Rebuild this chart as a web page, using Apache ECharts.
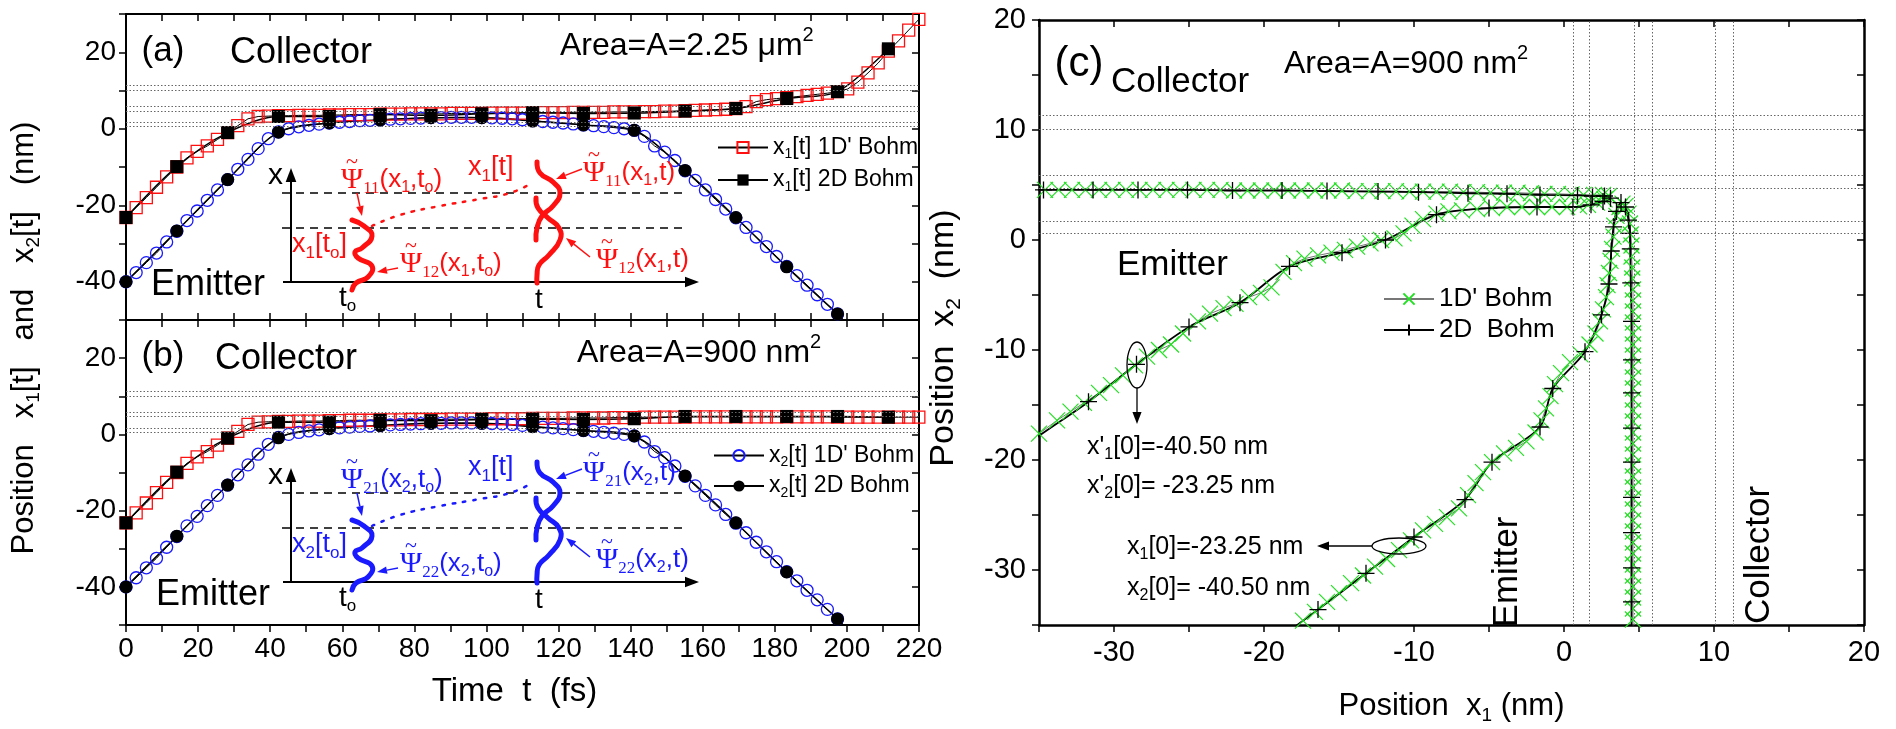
<!DOCTYPE html>
<html>
<head>
<meta charset="utf-8">
<title>Bohmian trajectories</title>
<script src="https://cdn.jsdelivr.net/npm/echarts/dist/echarts.min.js"></script>
<style>
  html, body { margin: 0; padding: 0; background: #fff; }
  #chart { width: 1896px; height: 729px; }
</style>
</head>
<body>
<div id="chart"></div>
<script>
// time grids (fs): 1D' samples and 2D samples
const t1D = [0, 2.82, 5.64, 8.46, 11.28, 14.1, 16.92, 19.74, 22.56, 25.38,
  28.2, 31.02, 33.84, 36.66, 39.48, 42.3, 45.12, 47.94, 50.76, 53.58,
  56.4, 59.22, 62.04, 64.86, 67.68, 70.5, 73.32, 76.14, 78.96, 81.78,
  84.6, 87.42, 90.24, 93.06, 95.88, 98.7, 101.52, 104.34, 107.16, 109.98,
  112.8, 115.62, 118.44, 121.26, 124.08, 126.9, 129.72, 132.54, 135.36, 138.18,
  141, 143.82, 146.64, 149.46, 152.28, 155.1, 157.92, 160.74, 163.56, 166.38,
  169.2, 172.02, 174.84, 177.66, 180.48, 183.3, 186.12, 188.94, 191.76, 194.58,
  197.4, 200.22, 203.04, 205.86, 208.68, 211.5, 214.32, 217.14, 219.96];
const t2D = [0, 14.1, 28.2, 42.3, 56.4, 70.5, 84.6, 98.7, 112.8, 126.9, 141, 155.1, 169.2, 183.3, 197.4, 211.5];

// panel (a), Area = 2.25 um^2
const a_x1_1d = [-23.2, -20.6, -18.0, -15.3, -12.6, -10.0, -7.6, -5.9, -4.5, -2.8,
  -1.0, 0.8, 2.6, 3.2, 3.3, 3.4, 3.4, 3.5, 3.5, 3.5,
  3.6, 3.6, 3.7, 3.7, 3.7, 3.8, 3.8, 3.8, 3.9, 3.9,
  3.9, 3.9, 4.0, 4.0, 4.0, 4.0, 4.1, 4.1, 4.1, 4.1,
  4.2, 4.2, 4.2, 4.2, 4.3, 4.3, 4.3, 4.3, 4.4, 4.4,
  4.4, 4.5, 4.5, 4.6, 4.6, 4.7, 4.8, 4.9, 5.0, 5.1,
  5.3, 5.8, 7.1, 7.6, 7.9, 8.1, 8.4, 8.7, 9.0, 9.3,
  9.7, 10.4, 12.2, 14.6, 17.2, 20.3, 23.0, 25.8, 28.6];
const a_x1_2d = [-23.2, -9.9, -1.0, 3.2, 3.2, 3.7, 3.5, 3.9, 4.2, 4.0, 4.1, 4.6, 5.3, 7.9, 9.7, 20.9];
const a_x2_1d = [-40.0, -37.6, -35.0, -32.5, -29.6, -26.8, -24.0, -21.5, -18.7, -16.0,
  -13.3, -10.6, -8.0, -5.2, -2.6, -0.8, 0.0, 0.5, 0.9, 1.2,
  1.5, 1.7, 1.9, 2.1, 2.2, 2.3, 2.5, 2.6, 2.7, 2.8,
  2.9, 2.9, 3.0, 3.0, 3.0, 2.9, 2.85, 2.75, 2.6, 2.35,
  2.1, 1.9, 1.7, 1.5, 1.25, 1.0, 0.8, 0.55, 0.3, 0.0,
  -0.4, -2.0, -4.5, -6.1, -8.3, -11.0, -13.5, -16.0, -18.5, -21.0,
  -23.3, -25.8, -28.3, -30.8, -33.4, -36.0, -38.4, -40.9, -43.4, -45.9,
  -48.4, -50.9];
const a_x2_2d = [-40.0, -26.7, -13.3, -0.9, 1.5, 2.3, 2.9, 2.9, 2.0, 1.0, -0.4, -10.9, -23.2, -36.1, -48.4];

// panel (b), Area = 900 nm^2
const b_x1_1d = [-23.2, -20.6, -18.0, -15.3, -12.6, -10.0, -7.6, -5.9, -4.5, -2.8,
  -1.0, 0.8, 2.6, 3.2, 3.3, 3.4, 3.4, 3.5, 3.5, 3.5,
  3.6, 3.6, 3.7, 3.7, 3.7, 3.8, 3.8, 3.8, 3.9, 3.9,
  3.9, 3.9, 4.0, 4.0, 4.0, 4.0, 4.1, 4.1, 4.1, 4.1,
  4.2, 4.2, 4.2, 4.2, 4.3, 4.3, 4.3, 4.3, 4.4, 4.4,
  4.4, 4.5, 4.5, 4.5, 4.5, 4.5, 4.6, 4.6, 4.6, 4.6,
  4.6, 4.6, 4.6, 4.6, 4.6, 4.6, 4.6, 4.6, 4.6, 4.6,
  4.5, 4.5, 4.5, 4.5, 4.5, 4.5, 4.5, 4.5, 4.5];
const b_x1_2d = [-23.2, -9.9, -1.0, 3.2, 3.2, 3.7, 3.6, 3.9, 4.0, 3.9, 4.1, 4.7, 4.7, 4.7, 4.7, 4.5];
const b_x2_1d = [-40.0, -37.6, -35.0, -32.5, -29.6, -26.8, -24.0, -21.5, -18.7, -16.0,
  -13.3, -10.6, -8.0, -5.2, -2.6, -0.8, 0.0, 0.5, 0.9, 1.2,
  1.5, 1.7, 1.9, 2.1, 2.2, 2.3, 2.5, 2.6, 2.7, 2.8,
  2.9, 2.9, 3.0, 3.0, 3.0, 2.9, 2.85, 2.75, 2.6, 2.35,
  2.1, 1.9, 1.7, 1.5, 1.25, 1.0, 0.8, 0.55, 0.3, 0.0,
  -0.4, -2.0, -4.5, -6.1, -8.3, -11.0, -13.5, -16.0, -18.5, -21.0,
  -23.3, -25.8, -28.3, -30.8, -33.4, -36.0, -38.4, -40.9, -43.4, -45.9,
  -48.4, -50.9];
const b_x2_2d = [-40.0, -26.7, -13.3, -0.9, 1.5, 2.3, 2.9, 2.9, 2.0, 1.0, -0.4, -10.9, -23.2, -36.1, -48.4];

// panel (c): [x1, x2] paths. tr1 = primed start (-40.50, -23.25), tr2 = (-23.25, -40.50)
const c_tr1_1d = [[-40.5, -23.25], [-39.0, -22.2], [-37.6, -20.6], [-36.2, -19.0], [-35.0, -17.6],
  [-33.8, -16.4], [-32.9, -15.6], [-32.0, -14.8], [-31.0, -13.9], [-30.2, -13.2], [-29.4, -12.3],
  [-28.6, -11.4], [-27.8, -10.6], [-27.0, -10.0], [-26.2, -9.5], [-25.4, -8.5], [-24.4, -7.4],
  [-23.6, -6.7], [-22.7, -6.2], [-21.9, -5.8], [-21.0, -5.2], [-20.2, -4.8], [-19.5, -4.3],
  [-18.7, -2.9], [-18.0, -2.1], [-17.3, -1.7], [-16.4, -1.4], [-15.5, -1.15], [-14.6, -0.9],
  [-13.8, -0.6], [-12.9, -0.3], [-12.2, 0.0], [-11.3, 0.15], [-10.7, 0.6], [-10.1, 1.3],
  [-9.4, 1.9], [-8.5, 2.4], [-7.7, 2.6], [-6.8, 2.7], [-5.8, 2.8], [-4.8, 2.9], [-3.8, 3.0],
  [-2.8, 3.0], [-1.8, 3.0], [-0.8, 3.0], [0.2, 3.0], [1.0, 3.05], [1.6, 3.2], [2.2, 3.4],
  [2.7, 3.7], [3.0, 4.0], [2.6, 4.1], [2.0, 4.1], [1.3, 4.1], [0.5, 4.15], [-0.4, 4.2],
  [-1.3, 4.2], [-2.2, 4.25], [-3.1, 4.3], [-4.0, 4.3], [-4.9, 4.3], [-5.8, 4.35], [-6.7, 4.35],
  [-7.6, 4.4], [-8.5, 4.4], [-9.4, 4.4], [-10.3, 4.4], [-11.2, 4.45], [-12.1, 4.45], [-13.0, 4.45],
  [-13.9, 4.45], [-14.8, 4.5], [-15.7, 4.5], [-16.6, 4.5], [-17.5, 4.5], [-18.4, 4.5], [-19.3, 4.5],
  [-20.2, 4.5], [-21.1, 4.5], [-22.0, 4.5], [-22.9, 4.55], [-23.8, 4.55], [-24.7, 4.55],
  [-25.6, 4.55], [-26.5, 4.55], [-27.4, 4.55], [-28.3, 4.55], [-29.2, 4.55], [-30.1, 4.55],
  [-31.0, 4.55], [-31.9, 4.55], [-32.8, 4.55], [-33.7, 4.55], [-34.6, 4.55], [-35.5, 4.55]];
const c_tr1_2d = [[-40.5, -23.25], [-35.2, -18.0], [-31.7, -14.7], [-28.5, -11.3], [-25.0, -7.9],
  [-21.6, -5.7], [-18.3, -2.4], [-14.8, -1.15], [-11.9, 0.0], [-8.5, 2.3], [-5.0, 2.9],
  [-1.8, 3.0], [0.6, 3.0], [1.8, 3.2], [2.6, 3.5], [3.1, 3.8], [2.7, 4.0], [1.9, 4.0],
  [0.9, 4.05], [-1.6, 4.1], [-3.8, 4.2], [-6.4, 4.25], [-9.7, 4.35], [-12.4, 4.4], [-15.8, 4.45],
  [-18.8, 4.5], [-22.1, 4.5], [-25.1, 4.55], [-28.4, 4.55], [-31.4, 4.55], [-34.7, 4.55], [-38.0, 4.55]];
const c_tr2_1d = [[-23.25, -40.5], [-22.2, -39.0], [-20.6, -37.6], [-19.0, -36.2], [-18.2, -35.5],
  [-17.4, -34.6], [-16.6, -33.8], [-15.8, -32.9], [-15.0, -32.1], [-14.2, -31.2], [-13.4, -30.5],
  [-12.6, -29.7], [-11.8, -29.0], [-11.0, -28.2], [-10.2, -27.3], [-9.4, -26.4], [-8.6, -25.8],
  [-7.8, -25.2], [-7.0, -24.4], [-6.4, -23.2], [-5.9, -22.1], [-5.4, -21.1], [-4.8, -20.2],
  [-4.0, -19.4], [-3.2, -18.9], [-2.5, -18.3], [-1.9, -17.5], [-1.5, -16.4], [-1.2, -15.3],
  [-0.9, -14.2], [-0.6, -13.1], [-0.2, -12.1], [0.4, -11.1], [1.1, -10.4], [1.7, -9.5],
  [2.1, -8.5], [2.4, -7.4], [2.6, -6.3], [2.8, -5.2], [2.9, -4.1], [3.0, -3.0], [3.1, -1.9],
  [3.2, -0.8], [3.3, 0.3], [3.35, 1.3], [3.5, 2.2], [3.7, 3.0], [3.9, 3.3], [4.1, 3.1],
  [4.3, 2.4], [4.4, 1.5], [4.45, 0.5], [4.5, -0.5], [4.5, -1.5], [4.55, -2.5], [4.55, -3.5],
  [4.6, -4.5], [4.6, -5.5], [4.6, -6.5], [4.6, -7.5], [4.6, -8.5], [4.6, -9.5], [4.6, -10.5],
  [4.6, -11.5], [4.6, -12.5], [4.6, -13.5], [4.6, -14.5], [4.6, -15.5], [4.6, -16.5], [4.6, -17.5],
  [4.6, -18.5], [4.6, -19.5], [4.6, -20.5], [4.6, -21.5], [4.6, -22.5], [4.6, -23.5], [4.6, -24.5],
  [4.6, -25.5], [4.6, -26.5], [4.6, -27.5], [4.6, -28.5], [4.6, -29.5], [4.6, -30.5], [4.6, -31.5],
  [4.6, -32.5], [4.6, -33.5], [4.6, -34.5], [4.6, -35.5]];
const c_tr2_2d = [[-23.25, -40.5], [-16.4, -33.6], [-13.2, -30.3], [-10.0, -27.0], [-6.6, -23.6],
  [-4.8, -20.2], [-1.6, -17.0], [-0.75, -13.5], [1.4, -10.15], [2.5, -6.8], [3.0, -4.0],
  [3.15, -1.0], [3.3, 1.2], [3.5, 2.6], [3.8, 3.4], [4.1, 3.0], [4.3, 1.8], [4.4, 0.6],
  [4.42, -0.8], [4.45, -3.9], [4.5, -7.4], [4.5, -10.9], [4.5, -13.9], [4.5, -17.1], [4.5, -20.2],
  [4.5, -23.4], [4.5, -26.6], [4.5, -29.8], [4.5, -32.9], [4.5, -36.0]];

// barrier edges (nm), drawn as dotted guide lines
const barrierEdges = [0.6, 1.7, 4.7, 5.9, 10.1, 11.3];

const FONT = 'Liberation Sans';
const SERIF = 'Liberation Serif';
const RED = '#ff1010';
const BLUE = '#1a1aff';
const GREEN = '#22e022';

const richSet = fs => ({
  s: { fontSize: Math.round(fs * 0.62), fontFamily: FONT, padding: [Math.round(fs * 0.6), 0, 0, 0] },
  u: { fontSize: Math.round(fs * 0.62), fontFamily: FONT, padding: [0, 0, Math.round(fs * 0.65), 0] },
  p: { fontSize: fs + 4, fontFamily: SERIF },
  ps: { fontSize: Math.round(fs * 0.64), fontFamily: SERIF, padding: [Math.round(fs * 0.65), 0, 0, 0] }
});

const chart = echarts.init(document.getElementById('chart'), null, { renderer: 'canvas' });

const tickOut = { show: true, inside: false, length: 7, lineStyle: { color: '#000', width: 1.5 } };
const tickIn = { show: true, inside: true, length: 7, lineStyle: { color: '#000', width: 1.5 } };
const axLine = w => ({ show: true, onZero: false, lineStyle: { color: '#000', width: w } });
const noLabel = { show: false };

function tAxis(grid, pos, tick, labels, extra) {
  return Object.assign({
    type: 'value', gridIndex: grid, position: pos, min: 0, max: 220, interval: 10,
    axisLine: axLine(2), axisTick: tick, splitLine: { show: false },
    axisLabel: labels ? { show: true, fontSize: 28, color: '#000', fontFamily: FONT, margin: 10,
      formatter: v => (v % 20 === 0 ? String(v) : '') } : noLabel
  }, extra || {});
}
function posAxis(grid, pos, tick, labels) {
  return {
    type: 'value', gridIndex: grid, position: pos, min: -50, max: 30, interval: 10,
    axisLine: axLine(2), axisTick: tick, splitLine: { show: false },
    axisLabel: labels ? { show: true, fontSize: 28, color: '#000', fontFamily: FONT, margin: 10,
      formatter: v => (v % 20 === 0 ? String(v) : '') } : noLabel
  };
}
function cAxis(pos, tick, labels, extra) {
  return Object.assign({
    type: 'value', gridIndex: 2, position: pos, min: -35, max: 20, interval: 5,
    axisLine: axLine(2.5), axisTick: tick, splitLine: { show: false },
    axisLabel: labels ? { show: true, fontSize: 29, color: '#000', fontFamily: FONT, margin: 13,
      formatter: v => (v % 10 === 0 ? String(v) : '') } : noLabel
  }, extra || {});
}

function guides(h, v) {
  const d = [];
  if (h) barrierEdges.forEach(e => d.push({ yAxis: e }));
  if (v) barrierEdges.forEach(e => d.push({ xAxis: e }));
  return { silent: true, symbol: ['none', 'none'], label: { show: false }, animation: false,
    emphasis: { disabled: true }, lineStyle: { color: '#666', width: 1, type: [1.5, 2] }, data: d };
}

function timeSeries(name, ax, ts, vals, sym, size, item, lw, extra) {
  return Object.assign({
    type: 'line', name, xAxisIndex: ax, yAxisIndex: ax,
    data: vals.map((v, i) => [ts[i], v]),
    symbol: sym, symbolSize: size, showAllSymbol: true,
    itemStyle: item, lineStyle: { color: '#000', width: lw },
    animation: false, emphasis: { disabled: true }
  }, extra || {});
}

const openRed = { color: 'rgba(0,0,0,0)', borderColor: RED, borderWidth: 1.3 };
const openBlue = { color: 'rgba(0,0,0,0)', borderColor: BLUE, borderWidth: 1.3 };
const solid = { color: '#000', borderColor: '#000', borderWidth: 0 };

const xSym = 'path://M0,0L10,10M10,0L0,10';
const plusSym = 'path://M5,0L5,10M0,5L10,5';

const series = [
  timeSeries('a_x1_1d', 0, t1D, a_x1_1d, 'rect', 12, openRed, 1, { markLine: guides(true, false) }),
  timeSeries('a_x2_1d', 0, t1D, a_x2_1d, 'circle', 12, openBlue, 1),
  timeSeries('a_x1_2d', 0, t2D, a_x1_2d, 'rect', 13, solid, 1.5, { smooth: 0.3 }),
  timeSeries('a_x2_2d', 0, t2D, a_x2_2d, 'circle', 13, solid, 1.5, { smooth: 0.3 }),
  timeSeries('b_x1_1d', 2, t1D, b_x1_1d, 'rect', 12, openRed, 1, { markLine: guides(true, false) }),
  timeSeries('b_x2_1d', 2, t1D, b_x2_1d, 'circle', 12, openBlue, 1),
  timeSeries('b_x1_2d', 2, t2D, b_x1_2d, 'rect', 13, solid, 1.5, { smooth: 0.3 }),
  timeSeries('b_x2_2d', 2, t2D, b_x2_2d, 'circle', 13, solid, 1.5, { smooth: 0.3 })
];
[c_tr1_1d, c_tr2_1d].forEach((d, i) => series.push({
  type: 'line', name: "1D' Bohm", xAxisIndex: 4, yAxisIndex: 4, data: d,
  symbol: xSym, symbolSize: 16, showAllSymbol: true,
  itemStyle: { color: GREEN, borderColor: GREEN, borderWidth: 1.2 },
  lineStyle: { color: '#777', width: 1 }, animation: false, emphasis: { disabled: true },
  markLine: i === 0 ? guides(true, true) : undefined
}));
[c_tr1_2d, c_tr2_2d].forEach(d => series.push({
  type: 'line', name: '2D  Bohm', xAxisIndex: 4, yAxisIndex: 4, data: d,
  symbol: plusSym, symbolSize: 17, showAllSymbol: true, smooth: 0.3,
  itemStyle: { color: '#000', borderColor: '#000', borderWidth: 1.3 },
  lineStyle: { color: '#000', width: 1.8 }, animation: false, emphasis: { disabled: true }
}));

const legendText = {
  a_x1_1d: "x{s|1}[t] 1D' Bohm", a_x1_2d: 'x{s|1}[t] 2D Bohm',
  b_x2_1d: "x{s|2}[t] 1D' Bohm", b_x2_2d: 'x{s|2}[t] 2D Bohm',
  "1D' Bohm": "1D' Bohm", '2D  Bohm': '2D  Bohm'
};
function legendAt(names, left, top, fs, gap) {
  return {
    data: names, orient: 'vertical', left, top, itemWidth: 50, itemHeight: 14, itemGap: gap,
    selectedMode: false, formatter: n => legendText[n],
    textStyle: { fontSize: fs, fontFamily: FONT, color: '#000', rich: richSet(fs) }
  };
}

// ---------- graphic helpers (schematic insets and annotations) ----------
function text(x, y, str, fs, opt) {
  opt = opt || {};
  return {
    type: 'text', x, y, rotation: opt.rot || 0, silent: true, z: 10,
    style: { text: str, fontSize: fs, fontFamily: opt.family || FONT, fill: opt.color || '#000',
      align: opt.align || 'left', verticalAlign: 'middle', rich: richSet(fs) }
  };
}
// label starting with a tilde-topped Psi
function psiLabel(x, y, str, fs, col) {
  return [
    text(x, y, '{p|Ψ}' + str, fs, { color: col }),
    text(x + 11, y - 18, '~', 22, { color: col, align: 'center', family: SERIF })
  ];
}
function arrow(x1, y1, x2, y2, col, w, hs) {
  const a = Math.atan2(y2 - y1, x2 - x1);
  const bx = x2 - hs * Math.cos(a), by = y2 - hs * Math.sin(a);
  const px = -Math.sin(a) * hs * 0.38, py = Math.cos(a) * hs * 0.38;
  return [
    { type: 'line', silent: true, z: 10, shape: { x1, y1, x2: bx, y2: by }, style: { stroke: col, lineWidth: w } },
    { type: 'polygon', silent: true, z: 10, shape: { points: [[x2, y2], [bx + px, by + py], [bx - px, by - py]] }, style: { fill: col } }
  ];
}
function curve(pts, col, w, dash) {
  return { type: 'polyline', silent: true, z: 10, shape: { points: pts, smooth: 0.5 },
    style: { stroke: col, lineWidth: w, fill: null, lineDash: dash || null, lineCap: 'round' } };
}
function dashLine(x1, x2, y) {
  return { type: 'line', silent: true, z: 10, shape: { x1, y1: y, x2, y2: y },
    style: { stroke: '#000', lineWidth: 1.3, lineDash: [8, 6] } };
}
function inset(dy, col, L) {
  const sh = p => p.map(q => [q[0], q[1] + dy]);
  let g = [];
  g = g.concat(arrow(291, 282 + dy, 291, 168 + dy, '#000', 2, 14));
  g = g.concat(arrow(283, 282 + dy, 699, 282 + dy, '#000', 2, 14));
  g.push(dashLine(282, 687, 193 + dy), dashLine(282, 687, 228 + dy));
  g.push(text(268, 176 + dy, 'x', 30));
  g.push(text(339, 298 + dy, 't{s|o}', 28));
  g.push(text(535, 300 + dy, 't', 28));
  g.push(curve(sh([[352, 220], [364, 226], [372, 236], [362, 248], [355, 252], [358, 258], [372, 266], [368, 277], [356, 283], [352, 290]]), col, 5));
  g.push(curve(sh([[537, 162], [540, 173], [553, 182], [560, 193], [553, 206], [542, 216], [537, 228], [536, 240]]), col, 5));
  g.push(curve(sh([[536, 198], [538, 208], [548, 218], [559, 228], [560, 240], [549, 255], [539, 265], [537, 275], [537, 283]]), col, 5));
  g.push(curve(sh([[372, 226], [400, 215], [440, 206], [480, 199], [510, 193], [532, 183]]), col, 2.5, [2.5, 8]));
  g = g.concat(arrow(357, 193 + dy, 362, 216 + dy, col, 1.5, 10));
  g = g.concat(arrow(398, 268 + dy, 377, 272 + dy, col, 1.5, 10));
  g = g.concat(arrow(582, 169 + dy, 556, 179 + dy, col, 1.5, 10));
  g = g.concat(arrow(590, 257 + dy, 566, 238 + dy, col, 1.5, 10));
  g = g.concat(psiLabel(341, 180 + dy, L[0], 26, col));
  g = g.concat(psiLabel(400, 264 + dy, L[1], 26, col));
  g.push(text(292, 245 + dy, L[2], 27, { color: col }));
  g.push(text(468, 168 + dy, L[3], 27, { color: col }));
  g = g.concat(psiLabel(583, 173 + dy, L[4], 26, col));
  g = g.concat(psiLabel(596, 260 + dy, L[5], 26, col));
  return g;
}

let graphics = [];
graphics = graphics.concat(inset(0, RED, [
  '{ps|11}(x{s|1},t{s|o})', '{ps|12}(x{s|1},t{s|o})', 'x{s|1}[t{s|o}]',
  'x{s|1}[t]', '{ps|11}(x{s|1},t)', '{ps|12}(x{s|1},t)']));
graphics = graphics.concat(inset(300, BLUE, [
  '{ps|21}(x{s|2},t{s|o})', '{ps|22}(x{s|2},t{s|o})', 'x{s|2}[t{s|o}]',
  'x{s|1}[t]', '{ps|21}(x{s|2},t)', '{ps|22}(x{s|2},t)']));

graphics.push(
  text(163, 51, '(a)', 35, { align: 'center' }),
  text(230, 53, 'Collector', 36),
  text(560, 46, 'Area=A=2.25 μm{u|2}', 32),
  text(151, 285, 'Emitter', 36),
  text(163, 356, '(b)', 35, { align: 'center' }),
  text(215, 359, 'Collector', 36),
  text(577, 353, 'Area=A=900 nm{u|2}', 32),
  text(156, 595, 'Emitter', 36),
  text(24, 338, 'Position   x{s|1}[t]   and   x{s|2}[t]   (nm)', 31, { align: 'center', rot: Math.PI / 2 }),
  text(944, 338, 'Position  x{s|2}  (nm)', 34, { align: 'center', rot: Math.PI / 2 }),
  text(1079, 64, '(c)', 42, { align: 'center' }),
  text(1111, 82, 'Collector', 35),
  text(1284, 64, 'Area=A=900 nm{u|2}', 32),
  text(1117, 265, 'Emitter', 35),
  text(1507, 572, 'Emitter', 35, { align: 'center', rot: Math.PI / 2 }),
  text(1759, 555, 'Collector', 35, { align: 'center', rot: Math.PI / 2 }),
  text(1087, 447, "x'{s|1}[0]=-40.50 nm", 25),
  text(1087, 486, "x'{s|2}[0]= -23.25 nm", 25),
  text(1127, 547, 'x{s|1}[0]=-23.25 nm', 25),
  text(1127, 588, 'x{s|2}[0]= -40.50 nm', 25),
  { type: 'ellipse', silent: true, z: 10, shape: { cx: 1137, cy: 365, rx: 10, ry: 23 }, style: { stroke: '#000', fill: null, lineWidth: 1.3 } },
  { type: 'ellipse', silent: true, z: 10, shape: { cx: 1399, cy: 546, rx: 27, ry: 8 }, style: { stroke: '#000', fill: null, lineWidth: 1.3 } }
);
graphics = graphics.concat(arrow(1137, 388, 1137, 424, '#000', 1.3, 12));
graphics = graphics.concat(arrow(1372, 546, 1317, 546, '#000', 1.3, 12));

chart.setOption({
  backgroundColor: '#fff',
  animation: false,
  textStyle: { fontFamily: FONT },
  grid: [
    { left: 126, top: 14, width: 793, height: 306, containLabel: false, outerBoundsMode: 'none' },
    { left: 126, top: 320, width: 793, height: 305, containLabel: false, outerBoundsMode: 'none' },
    { left: 1039, top: 20, width: 825, height: 605, containLabel: false, outerBoundsMode: 'none' }
  ],
  xAxis: [
    tAxis(0, 'bottom', tickOut, false),
    tAxis(0, 'top', tickIn, false),
    tAxis(1, 'bottom', tickOut, true, {
      name: 'Time  t  (fs)', nameLocation: 'middle', nameGap: 50,
      nameTextStyle: { fontSize: 33, color: '#000', fontFamily: FONT, padding: [0, 16, 0, 0] }
    }),
    tAxis(1, 'top', tickOut, false),
    cAxis('bottom', tickOut, true, {
      name: 'Position  x{s|1} (nm)', nameLocation: 'middle', nameGap: 62,
      nameTextStyle: { fontSize: 31, color: '#000', fontFamily: FONT, rich: richSet(31) }
    }),
    cAxis('top', tickIn, false)
  ],
  yAxis: [
    posAxis(0, 'left', tickOut, true),
    posAxis(0, 'right', tickIn, false),
    posAxis(1, 'left', tickOut, true),
    posAxis(1, 'right', tickIn, false),
    cAxis('left', tickOut, true),
    cAxis('right', tickIn, false)
  ],
  legend: [
    legendAt(['a_x1_1d', 'a_x1_2d'], 712, 131, 23, 7),
    legendAt(['b_x2_1d', 'b_x2_2d'], 708, 439, 23, 5),
    legendAt(["1D' Bohm", '2D  Bohm'], 1378, 281, 26, 5)
  ],
  series,
  graphic: { elements: graphics }
});
</script>
</body>
</html>
